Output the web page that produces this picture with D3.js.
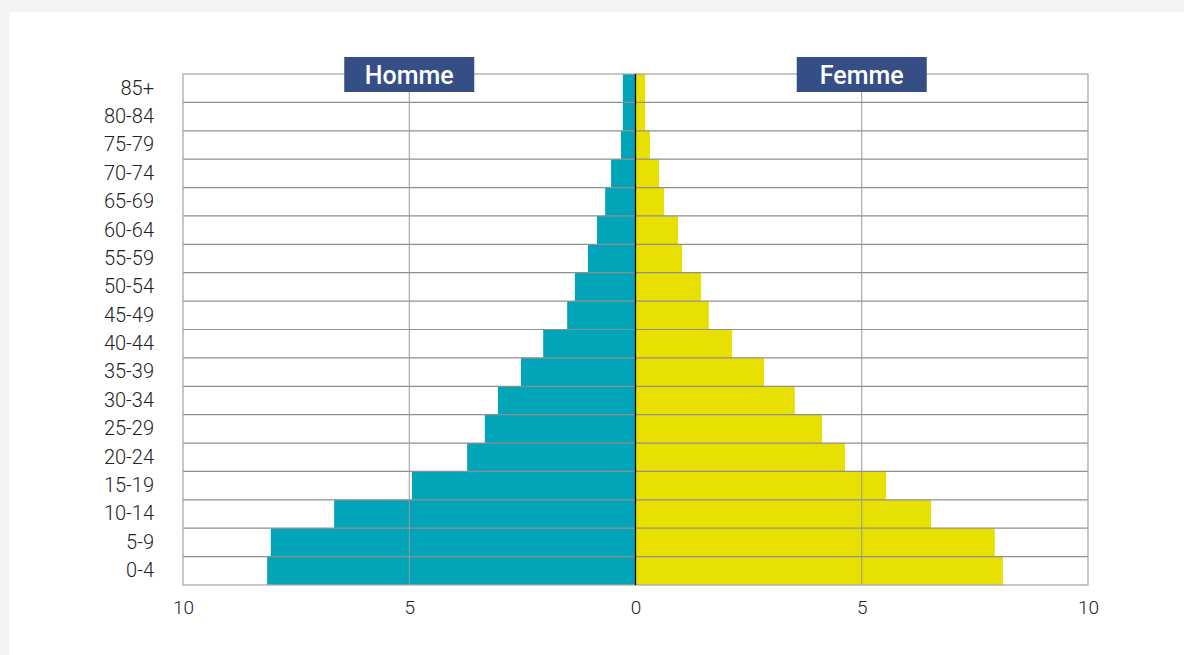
<!DOCTYPE html>
<html>
<head>
<meta charset="utf-8">
<script src="https://cdn.jsdelivr.net/npm/d3@7"></script>
<style>
  html, body { margin: 0; padding: 0; background: #f3f3f3; }
  #chart { position: absolute; left: 9px; top: 12px; width: 1175px; height: 643px; background: #fff; }
  svg { font-family: Roboto, sans-serif; }
</style>
</head>
<body>
<div id="chart"></div>
<script>
// age groups, youngest first
var ages = ["0-4", "5-9", "10-14", "15-19", "20-24", "25-29", "30-34", "35-39", "40-44",
            "45-49", "50-54", "55-59", "60-64", "65-69", "70-74", "75-79", "80-84", "85+"];
var homme = [8.14, 8.06, 6.66, 4.94, 3.72, 3.33, 3.04, 2.53, 2.04,
             1.51, 1.34, 1.05, 0.85, 0.67, 0.54, 0.32, 0.28, 0.28];
var femme = [8.12, 7.94, 6.53, 5.54, 4.63, 4.12, 3.52, 2.84, 2.13,
             1.62, 1.45, 1.03, 0.94, 0.63, 0.52, 0.32, 0.21, 0.21];
var xTicks = [-10, -5, 0, 5, 10];
var series = ["Homme", "Femme"];

var width = 1175, height = 643;
var margin = {left: 174, right: 96, top: 62, bottom: 70};

var svg = d3.select("#chart").append("svg")
    .attr("width", width)
    .attr("height", height);

var g = svg.append("g").attr("transform", "translate(" + margin.left + "," + margin.top + ")");

var w = 1088 - 183, h = 585 - 74;

var x = d3.scaleLinear().domain([-10, 10]).range([0, w]);
var y = d3.scaleBand().domain(ages.slice().reverse()).range([0, h]).padding(0);

// bars
g.selectAll("rect.homme")
    .data(ages)
  .enter().append("rect")
    .attr("class", "homme")
    .attr("x", function(d, i) { return x(-homme[i]); })
    .attr("y", function(d) { return y(d); })
    .attr("width", function(d, i) { return x(0) - x(-homme[i]); })
    .attr("height", y.bandwidth())
    .attr("fill", "#02a4b7");

g.selectAll("rect.femme")
    .data(ages)
  .enter().append("rect")
    .attr("class", "femme")
    .attr("x", x(0))
    .attr("y", function(d) { return y(d); })
    .attr("width", function(d, i) { return x(femme[i]) - x(0); })
    .attr("height", y.bandwidth())
    .attr("fill", "#e7e000");

// horizontal grid lines between rows
g.selectAll("line.hgrid")
    .data(ages.slice(1))
  .enter().append("line")
    .attr("class", "hgrid")
    .attr("x1", 0).attr("x2", w)
    .attr("y1", function(d) { return y(d) + y.bandwidth(); })
    .attr("y2", function(d) { return y(d) + y.bandwidth(); })
    .attr("stroke", "#8f8f8f")
    .attr("stroke-width", 1.2);

// vertical grid at +-5
g.selectAll("line.vgrid")
    .data([-5, 5])
  .enter().append("line")
    .attr("class", "vgrid")
    .attr("x1", function(d) { return x(d); })
    .attr("x2", function(d) { return x(d); })
    .attr("y1", 0).attr("y2", h)
    .attr("stroke", "#999")
    .attr("stroke-width", 1);

// frame
g.append("rect")
    .attr("width", w).attr("height", h)
    .attr("fill", "none")
    .attr("stroke", "#aaa")
    .attr("stroke-width", 1.3);

// zero line
g.append("line")
    .attr("x1", x(0)).attr("x2", x(0))
    .attr("y1", 0).attr("y2", h)
    .attr("stroke", "#000")
    .attr("stroke-width", 1.3);

// x axis
var xAxis = d3.axisBottom(x)
    .tickValues(xTicks)
    .tickFormat(function(d) { return Math.abs(d); })
    .tickSize(0)
    .tickPadding(16);

g.append("g")
    .attr("transform", "translate(0," + h + ")")
    .call(xAxis)
    .call(function(a) { a.select(".domain").remove(); })
    .selectAll("text")
    .attr("font-size", 19)
    .attr("font-weight", 300)
    .attr("font-family", "Roboto, sans-serif")
    .attr("fill", "#222");

// y axis
var yAxis = d3.axisLeft(y).tickSize(0).tickPadding(29);

g.append("g")
    .call(yAxis)
    .call(function(a) { a.select(".domain").remove(); })
    .selectAll("text")
    .attr("font-size", 20)
    .attr("font-weight", 300)
    .attr("font-family", "Roboto, sans-serif")
    .attr("fill", "#222");

// series labels
var lab = g.selectAll("g.lab")
    .data(series)
  .enter().append("g")
    .attr("class", "lab")
    .attr("transform", function(d, i) { return "translate(" + x(i ? 5 : -5) + ",-17)"; });

lab.append("rect")
    .attr("x", -65).attr("y", 0)
    .attr("width", 130).attr("height", 35)
    .attr("fill", "#354e85");

lab.append("text")
    .attr("x", 0).attr("y", 27)
    .attr("text-anchor", "middle")
    .attr("font-size", 25)
    .attr("font-weight", 500)
    .attr("fill", "#fff")
    .text(function(d) { return d; });
</script>
</body>
</html>
